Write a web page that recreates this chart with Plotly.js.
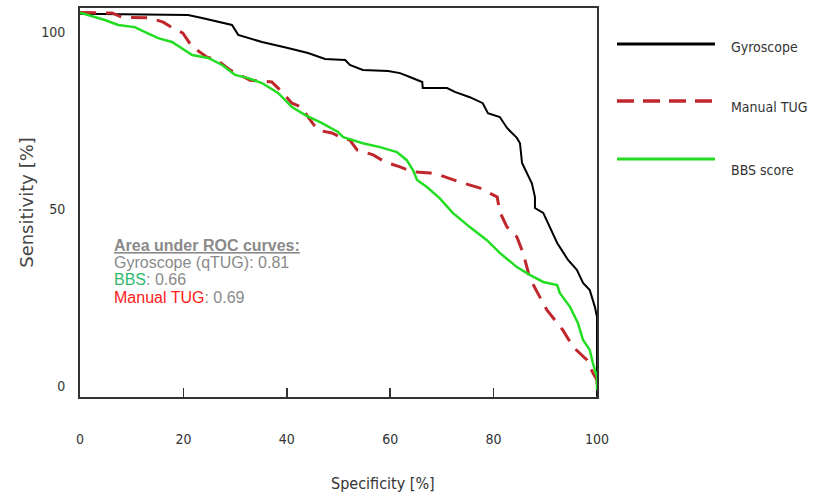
<!DOCTYPE html>
<html>
<head>
<meta charset="utf-8">
<script src="https://cdn.plot.ly/plotly-3.0.1.min.js"></script>
<style>
  html, body { margin: 0; padding: 0; background: #fff; }
  #chart { width: 817px; height: 497px; }
</style>
</head>
<body>
<div id="chart"></div>
<script>
// Gyroscope (qTUG) ROC curve: specificity [%] vs sensitivity [%]
const gyroSpec = [0, 20.9, 23.6, 29.4, 30.6, 35.2, 40.2, 44.1, 47.4, 51.3, 52.2, 54.7, 59.6, 61.9, 63.8, 66.2, 66.3, 71.0, 72.5, 75.4, 77.9, 78.9, 81.2, 82.6, 84.5, 85.1, 85.5, 86.5, 87.4, 88.0, 88.0, 89.6, 90.9, 92.3, 93.4, 94.4, 96.1, 97.3, 98.6, 99.6, 100, 100];
const gyroSens = [105.2, 104.8, 104.0, 102.0, 99.2, 97.2, 95.5, 94.1, 92.4, 92.1, 90.7, 89.3, 89.0, 88.4, 87.3, 85.9, 84.2, 84.2, 83.1, 81.6, 79.9, 77.1, 76.0, 72.9, 70.1, 68.6, 63.0, 60.2, 57.3, 53.4, 50.3, 48.9, 44.9, 40.4, 37.9, 35.6, 32.8, 29.1, 27.1, 22.3, 19.5, -3.0];

// Manual TUG ROC curve
const tugSpec = [0, 6.2, 8.1, 13.5, 16.1, 18.0, 19.9, 21.7, 24.6, 26.5, 29.0, 32.9, 37.1, 38.7, 41.0, 42.9, 44.1, 46.0, 48.7, 50.7, 52.2, 53.6, 56.7, 59.0, 61.9, 64.4, 67.7, 69.6, 73.5, 77.4, 80.7, 81.2, 82.6, 84.5, 85.7, 87.0, 88.4, 90.3, 93.4, 95.4, 98.1, 99.2, 100, 100];
const tugSens = [105.5, 105.4, 104.2, 104.0, 102.8, 101.1, 99.7, 95.8, 92.9, 92.1, 89.3, 86.4, 85.9, 83.6, 79.9, 78.8, 76.0, 72.3, 71.5, 70.1, 69.5, 66.7, 65.3, 63.3, 61.9, 60.5, 60.2, 59.6, 57.6, 55.9, 53.4, 49.2, 44.9, 42.1, 37.6, 30.5, 26.6, 21.5, 15.8, 11.0, 7.3, 3.7, 1.7, -1.1];

// BBS score ROC curve
const bbsSpec = [0, 4.8, 7.4, 10.6, 12.6, 15.1, 17.8, 20.3, 21.7, 24.8, 27.5, 30.0, 32.5, 35.2, 38.3, 41.0, 43.5, 46.8, 49.9, 50.9, 54.7, 58.0, 61.3, 63.2, 64.4, 65.2, 67.1, 69.6, 72.1, 75.4, 78.7, 81.2, 84.5, 87.0, 89.6, 92.3, 92.8, 94.8, 96.3, 97.3, 98.6, 99.2, 100, 100];
const bbsSens = [105.5, 103.4, 102.0, 101.4, 100.0, 98.3, 97.2, 94.9, 93.5, 92.7, 90.7, 87.9, 87.0, 85.6, 82.8, 78.8, 76.6, 74.3, 71.8, 70.3, 68.6, 67.5, 66.1, 63.8, 61.0, 58.2, 56.2, 53.0, 48.9, 44.9, 41.2, 37.6, 33.6, 31.4, 29.4, 28.5, 26.3, 22.3, 17.8, 13.0, 10.2, 6.5, 2.5, -1.1];

// Labels
const seriesNames = ["Gyroscope", "Manual TUG", "BBS score"];
const xTickVals = [0, 20, 40, 60, 80, 100];
const yTickVals = [0, 50, 100];
const aucTitle = "Area under ROC curves:";
const aucLines = [
  {label: "Gyroscope (qTUG)", value: "0.81", color: "#8a8a8a"},
  {label: "BBS", value: "0.66", color: "#2fb86a"},
  {label: "Manual TUG", value: "0.69", color: "#ff2020"}
];

const colors = {gyro: "#000000", tug: "#c0272d", bbs: "#22dd22"};
const narrow = "Liberation Sans Narrow, DejaVu Sans Condensed, Arial Narrow, sans-serif";

const traces = [
  {x: gyroSpec, y: gyroSens, name: seriesNames[0], type: "scatter", mode: "lines",
   line: {color: colors.gyro, width: 2}, showlegend: false, hoverinfo: "skip"},
  {x: tugSpec, y: tugSens, name: seriesNames[1], type: "scatter", mode: "lines",
   line: {color: colors.tug, width: 3, dash: "16px,10px"}, showlegend: false, hoverinfo: "skip"},
  {x: bbsSpec, y: bbsSens, name: seriesNames[2], type: "scatter", mode: "lines",
   line: {color: colors.bbs, width: 2.5}, showlegend: false, hoverinfo: "skip"}
];

// paper-coordinate helpers (plot area: x 80..597, y 8..397 px)
const L = 80, R = 597, T = 8, B = 397;
const px = v => (v - L) / (R - L);
const py = v => (B - v) / (B - T);

const legendRows = [
  {name: seriesNames[0], color: colors.gyro, dash: "solid", width: 3, lineY: 44, textY: 47},
  {name: seriesNames[1], color: colors.tug, dash: "17px,9px", width: 3.5, lineY: 101, textY: 107},
  {name: seriesNames[2], color: colors.bbs, dash: "solid", width: 3, lineY: 159, textY: 170}
];

const shapes = legendRows.map(r => ({
  type: "line", xref: "paper", yref: "paper",
  x0: px(617), x1: px(715), y0: py(r.lineY), y1: py(r.lineY),
  line: {color: r.color, width: r.width, dash: r.dash}
}));

const annotations = [];
legendRows.forEach(r => annotations.push({
  xref: "paper", yref: "paper", x: px(729), y: py(r.textY),
  xanchor: "left", yanchor: "middle", showarrow: false, text: r.name,
  font: {family: narrow, size: 14, color: "#333"}
}));

const aucFont = {family: "Liberation Sans, Arial, sans-serif", size: 16, color: "#8a8a8a"};
annotations.push({
  xref: "paper", yref: "paper", x: px(112), y: py(245), xanchor: "left", yanchor: "middle",
  showarrow: false, text: "<b><u>" + aucTitle + "</u></b>", font: aucFont
});
const aucY = [262, 279, 297];
aucLines.forEach((a, i) => annotations.push({
  xref: "paper", yref: "paper", x: px(112), y: py(aucY[i]), xanchor: "left", yanchor: "middle",
  showarrow: false,
  text: "<span style='color:" + a.color + "'>" + a.label + "</span>: " + a.value,
  font: aucFont
}));

// x-axis title positioned as in the reference
annotations.push({
  xref: "paper", yref: "paper", x: px(383), y: py(483), xanchor: "center", yanchor: "middle",
  showarrow: false, text: "Specificity [%]", font: {family: narrow, size: 16, color: "#333"}
});

const layout = {
  width: 817, height: 497,
  margin: {l: L, r: 817 - R, t: T, b: 497 - B, pad: 0},
  paper_bgcolor: "#ffffff", plot_bgcolor: "#ffffff",
  showlegend: false,
  xaxis: {
    range: [0, 100], tickvals: xTickVals, ticktext: xTickVals.map(String),
    ticks: "inside", ticklen: 9, tickwidth: 1.5, tickcolor: "#333",
    ticklabelstandoff: 28,
    tickfont: {family: narrow, size: 14, color: "#333"},
    showgrid: false, zeroline: false,
    showline: true, linecolor: "#333", linewidth: 2, mirror: true,
    fixedrange: true
  },
  yaxis: {
    range: [-3.1, 106.8], tickvals: yTickVals, ticktext: yTickVals.map(String),
    ticks: "", ticklabelstandoff: 10,
    tickfont: {family: narrow, size: 14, color: "#333"},
    title: {text: "Sensitivity [%]", standoff: 3, font: {family: "DejaVu Sans, Verdana, sans-serif", size: 18, color: "#444"}},
    showgrid: false, zeroline: false,
    showline: true, linecolor: "#333", linewidth: 2, mirror: true,
    fixedrange: true
  },
  shapes: shapes,
  annotations: annotations
};

Plotly.newPlot("chart", traces, layout, {displayModeBar: false, staticPlot: true});
</script>
</body>
</html>
